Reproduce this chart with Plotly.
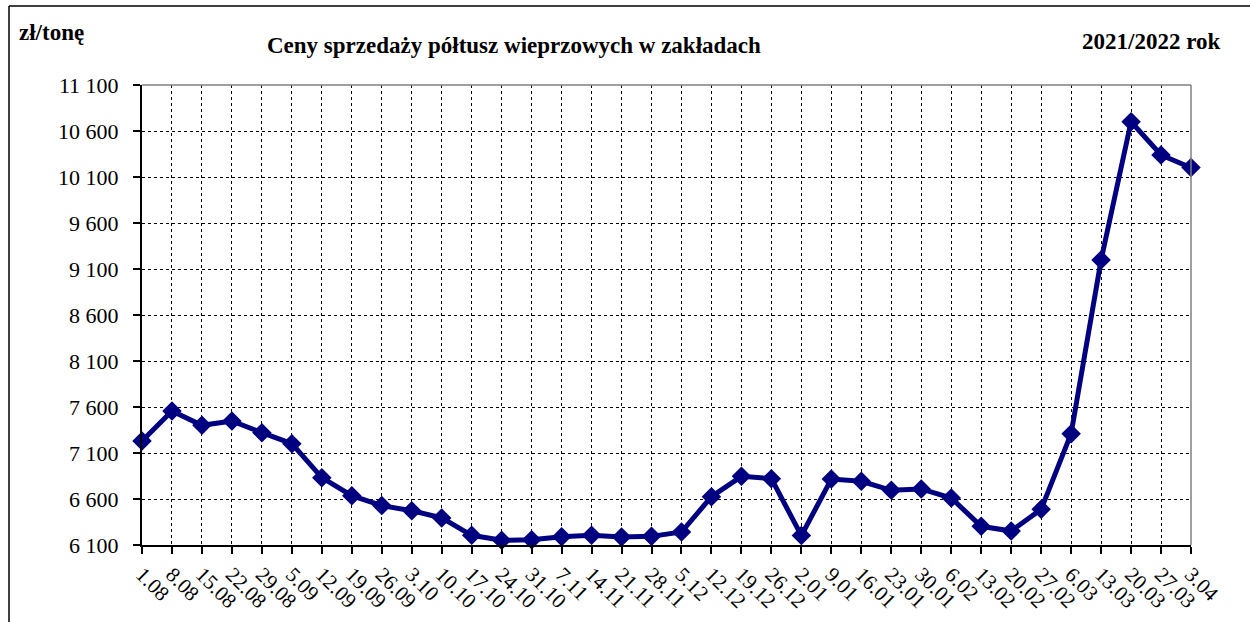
import plotly.graph_objects as go

weeks = ["1.08", "8.08", "15.08", "22.08", "29.08", "5.09", "12.09", "19.09", "26.09",
         "3.10", "10.10", "17.10", "24.10", "31.10", "7.11", "14.11", "21.11", "28.11",
         "5.12", "12.12", "19.12", "26.12", "2.01", "9.01", "16.01", "23.01", "30.01",
         "6.02", "13.02", "20.02", "27.02", "6.03", "13.03", "20.03", "27.03", "3.04"]
prices = [7230, 7557, 7401, 7448, 7321, 7201, 6832, 6636, 6528,
          6473, 6394, 6205, 6151, 6158, 6190, 6205, 6187, 6194,
          6241, 6625, 6846, 6821, 6202, 6817, 6792, 6694, 6709,
          6611, 6303, 6252, 6488, 7310, 9198, 10701, 10339, 10202]

title_text = "Ceny sprzedaży półtusz wieprzowych w zakładach"
unit_text = "zł/tonę"
year_text = "2021/2022 rok"

W, H = 1250, 622
L, R, T, B = 142, 1191, 85, 545
pw, ph = R - L, B - T

def px(x):
    return (x - L) / pw

def py(y):
    return (B - y) / ph

fig = go.Figure()
fig.add_trace(go.Scatter(
    x=list(range(len(weeks))), y=prices, mode="lines+markers",
    line=dict(color="#000080", width=5),
    marker=dict(symbol="diamond", size=15, color="#000080"),
    cliponaxis=False, showlegend=False,
))

serif = "Liberation Serif"

fig.update_layout(
    width=W, height=H,
    margin=dict(l=L, r=W - R, t=T, b=H - B, autoexpand=False),
    paper_bgcolor="white", plot_bgcolor="white",
    separators=". ",
    font=dict(family=serif, color="black"),
    xaxis=dict(
        tickmode="array", tickvals=list(range(len(weeks))), ticktext=weeks,
        range=[0, len(weeks) - 1], tickangle=45,
        tickfont=dict(size=21, family=serif, color="black"),
        showgrid=True, gridcolor="black", gridwidth=1, griddash="dot",
        ticks="outside", ticklen=7, tickcolor="black", tickwidth=1.5,
        showline=True, linecolor="black", linewidth=2, zeroline=False,
        mirror=False,
    ),
    yaxis=dict(
        range=[6100, 11100], tick0=6100, dtick=500, tickformat=",d",
        tickfont=dict(size=22, family=serif, color="black"),
        showgrid=True, gridcolor="black", gridwidth=1, griddash="dot",
        ticks="outside", ticklen=7, tickcolor="black", tickwidth=1.5,
        showline=True, linecolor="black", linewidth=2, zeroline=False,
        ticklabelstandoff=10,
    ),
)

# gray plot-area border on top and right
fig.add_shape(type="line", xref="paper", yref="paper", x0=0, x1=1, y0=1, y1=1,
              line=dict(color="#808080", width=1.5))
fig.add_shape(type="line", xref="paper", yref="paper", x0=1, x1=1, y0=0, y1=1,
              line=dict(color="#808080", width=1.5))
# outer frame lines
fig.add_shape(type="line", xref="paper", yref="paper", x0=px(9), x1=px(1252),
              y0=py(6), y1=py(6), line=dict(color="black", width=1.5))
fig.add_shape(type="line", xref="paper", yref="paper", x0=px(9), x1=px(9),
              y0=py(6), y1=py(630), line=dict(color="black", width=1.5))

fig.add_annotation(text="<b>" + unit_text + "</b>", xref="paper", yref="paper",
                   x=px(17), y=py(33), xanchor="left", yanchor="middle",
                   showarrow=False, font=dict(size=23, family=serif, color="black"))
fig.add_annotation(text="<b>" + title_text + "</b>", xref="paper", yref="paper",
                   x=px(514), y=py(46), xanchor="center", yanchor="middle",
                   showarrow=False, font=dict(size=23, family=serif, color="black"))
fig.add_annotation(text="<b>" + year_text + "</b>", xref="paper", yref="paper",
                   x=px(1222), y=py(42), xanchor="right", yanchor="middle",
                   showarrow=False, font=dict(size=23, family=serif, color="black"))

fig.write_html("out.html", config={"displayModeBar": False},
               post_script="document.body.style.margin='0';document.body.style.overflow='hidden';")
